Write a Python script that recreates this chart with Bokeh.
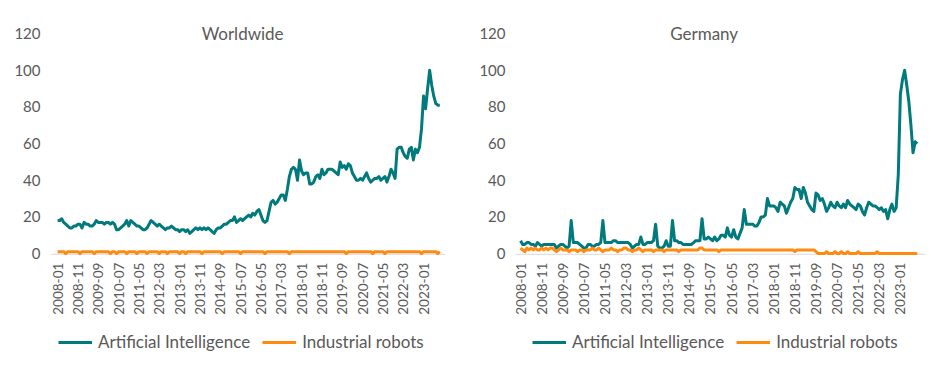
import math
from bokeh.plotting import figure
from bokeh.layouts import row
from bokeh.models import Range1d, FixedTicker, Legend, LegendItem, Label, Span
from bokeh.core.properties import value
from bokeh.embed import file_html
from bokeh.resources import INLINE

tick_labels = ["2008-01", "2008-11", "2009-09", "2010-07", "2011-05", "2012-03", "2013-01",
               "2013-11", "2014-09", "2015-07", "2016-05", "2017-03", "2018-01", "2018-11",
               "2019-09", "2020-07", "2021-05", "2022-03", "2023-01"]
tick_positions = [i * 10 for i in range(len(tick_labels))]

world_ai = [
    18, 18, 19, 17, 16, 15, 14, 14, 15, 15, 16, 16,
    14, 17, 16, 16, 15, 15, 16, 18, 17, 17, 17, 16,
    17, 17, 16, 17, 16, 13, 13, 14, 15, 16, 18, 15,
    18, 17, 16, 15, 15, 14, 13, 13, 14, 16, 18, 17,
    16, 15, 16, 15, 14, 13, 14, 14, 15, 14, 13, 13,
    12, 13, 13, 12, 13, 11, 12, 13, 14, 13, 14, 13,
    14, 13, 14, 13, 12, 11, 13, 14, 14, 15, 16, 16,
    17, 18, 18, 20, 17, 18, 19, 18, 19, 20, 21, 20,
    22, 21, 23, 24, 21, 18, 17, 18, 23, 28, 29, 27,
    28, 30, 32, 32, 29, 35, 42, 46, 47, 46, 40, 51,
    45, 43, 44, 44, 38, 38, 39, 42, 43, 41, 46, 43,
    44, 46, 46, 46, 45, 44, 43, 50, 47, 48, 46, 49,
    48, 44, 42, 40, 40, 41, 40, 42, 44, 41, 39, 40,
    41, 41, 42, 40, 41, 42, 39, 42, 46, 44, 41, 57,
    58, 58, 55, 53, 52, 57, 58, 51, 57, 55, 58, 68,
    86, 79, 90, 100, 92, 86, 82, 81, 81,
]

world_robots = [
    1, 1, 1, 1, 0, 1, 1, 1, 1, 1, 1, 0,
    1, 1, 1, 1, 1, 1, 0, 1, 1, 1, 1, 1,
    1, 1, 0, 1, 1, 0, 1, 1, 1, 1, 0, 1,
    1, 1, 1, 0, 1, 1, 1, 1, 0, 1, 1, 1,
    1, 1, 0, 1, 1, 1, 0, 1, 1, 1, 1, 1,
    0, 1, 1, 0, 1, 1, 1, 1, 1, 1, 1, 0,
    1, 1, 1, 1, 1, 1, 1, 1, 1, 0, 1, 1,
    1, 1, 1, 1, 1, 1, 0, 1, 1, 1, 1, 1,
    1, 1, 1, 1, 1, 1, 0, 1, 1, 1, 1, 1,
    1, 1, 1, 1, 1, 1, 0, 1, 1, 1, 1, 1,
    1, 1, 1, 1, 1, 1, 1, 1, 1, 1, 1, 1,
    1, 1, 1, 1, 1, 1, 1, 1, 1, 1, 0, 1,
    1, 1, 1, 1, 1, 1, 1, 1, 1, 1, 1, 0,
    1, 1, 1, 1, 1, 0, 1, 1, 1, 1, 1, 1,
    1, 1, 1, 1, 1, 1, 1, 1, 1, 1, 1, 0,
    1, 1, 1, 1, 1, 1, 1, 0, 1,
]

germany_ai = [
    7, 5, 5, 6, 6, 5, 5, 4, 6, 5, 4, 5,
    5, 5, 5, 5, 5, 3, 4, 5, 5, 4, 3, 4,
    18, 6, 6, 6, 5, 4, 3, 3, 5, 5, 4, 4,
    5, 5, 6, 18, 6, 6, 6, 6, 7, 7, 6, 6,
    6, 6, 6, 6, 5, 3, 4, 5, 5, 9, 5, 5,
    6, 6, 6, 7, 16, 4, 3, 3, 4, 7, 4, 4,
    18, 7, 7, 6, 6, 5, 5, 5, 5, 5, 6, 7,
    7, 7, 19, 8, 8, 9, 8, 7, 9, 7, 8, 10,
    10, 9, 14, 10, 9, 13, 9, 8, 11, 14, 24, 16,
    16, 16, 16, 15, 15, 17, 20, 20, 21, 30, 26, 26,
    26, 25, 23, 28, 27, 26, 22, 25, 28, 30, 36, 35,
    35, 30, 36, 33, 28, 26, 24, 23, 33, 32, 29, 30,
    27, 23, 25, 28, 26, 25, 28, 26, 25, 27, 25, 29,
    27, 26, 25, 24, 27, 26, 23, 21, 25, 28, 27, 26,
    26, 25, 24, 25, 23, 24, 19, 24, 27, 23, 25, 43,
    87, 95, 100, 92, 83, 70, 55, 61, 60,
]

germany_robots = [
    3, 2, 1, 3, 2, 3, 2, 3, 2, 2, 3, 2,
    3, 2, 3, 3, 2, 1, 2, 3, 2, 2, 2, 1,
    2, 2, 2, 1, 2, 2, 1, 2, 2, 2, 3, 2,
    2, 3, 2, 1, 2, 2, 2, 3, 2, 2, 1, 2,
    2, 3, 3, 2, 2, 1, 2, 2, 3, 2, 1, 2,
    2, 2, 2, 1, 2, 2, 2, 2, 1, 2, 2, 2,
    2, 2, 2, 1, 2, 2, 2, 2, 2, 2, 2, 2,
    2, 3, 3, 2, 2, 2, 2, 2, 2, 2, 1, 2,
    2, 2, 2, 2, 2, 2, 2, 2, 2, 2, 2, 2,
    2, 2, 2, 2, 2, 2, 2, 2, 2, 2, 2, 2,
    2, 2, 2, 2, 2, 2, 2, 2, 2, 2, 1, 2,
    2, 2, 2, 2, 2, 2, 2, 2, 1, 0, 0, 0,
    0, 1, 0, 0, 0, 1, 0, 0, 1, 0, 0, 1,
    0, 0, 0, 0, 1, 0, 0, 0, 0, 0, 0, 0,
    0, 1, 0, 0, 0, 0, 0, 0, 0, 0, 0, 0,
    0, 0, 0, 0, 0, 0, 0, 0, 0,
]

TEAL = "#007A7C"
ORANGE = "#FF8A10"
TXT = "#595959"
FONT = "Lato"


def make(title, ai, robots, fwidth, left, right, xr, title_x, leg_x):
    x = list(range(len(ai)))
    p = figure(frame_width=fwidth, frame_height=351, output_backend="svg", toolbar_location=None,
               x_range=Range1d(*xr), y_range=Range1d(-66.55, 125.0),
               min_border_left=left, min_border_right=right,
               min_border_top=24, min_border_bottom=0)
    p.add_layout(Span(location=-0.4, dimension="width", line_color="#D9D9D9",
                      line_width=1, level="underlay"))
    r1 = p.line(x, ai, line_color=TEAL, line_width=3, line_join="round")
    r2 = p.line(x, robots[:len(ai)], line_color=ORANGE, line_width=3, line_join="round")
    p.xgrid.visible = False
    p.ygrid.visible = False
    p.outline_line_color = None
    p.xaxis.visible = False

    # x tick labels, placed at the tick positions through the x scale
    p.text(x=tick_positions, y=[-5.0] * len(tick_positions), text=tick_labels,
           angle=math.pi / 2, text_align="right", text_baseline="middle",
           text_font=value(FONT), text_font_size="13.5px", text_color=TXT)

    p.yaxis.ticker = FixedTicker(ticks=[0, 20, 40, 60, 80, 100, 120])
    p.yaxis.axis_line_color = None
    p.yaxis.major_tick_line_color = None
    p.yaxis.minor_tick_line_color = None
    p.yaxis.major_label_standoff = 4
    p.yaxis.major_label_text_font_size = "15px"
    p.yaxis.major_label_text_font = FONT
    p.yaxis.major_label_text_color = TXT

    p.add_layout(Label(x=title_x, y=120, text=title, text_align="center",
                       text_baseline="middle", text_font=FONT, text_font_size="17px",
                       text_color=TXT))

    legend = Legend(items=[LegendItem(label="Artificial Intelligence", renderers=[r1]),
                           LegendItem(label="Industrial robots", renderers=[r2])],
                    orientation="horizontal", location=(leg_x, 23),
                    border_line_color=None, background_fill_alpha=0,
                    label_text_font=FONT, label_text_font_size="17px",
                    label_text_color=TXT, glyph_width=34, label_standoff=6,
                    spacing=12, padding=0, margin=0)
    p.add_layout(legend)
    return p


p1 = make("Worldwide", world_ai, world_robots, 395, 50, 20, (-3.5, 190.8), 91, 8)
p2 = make("Germany", germany_ai, germany_robots, 410, 50, 6, (-2.4, 191.9), 87, 17)

layout = row(p1, p2)
open("out.html", "w").write(file_html(layout, INLINE))
